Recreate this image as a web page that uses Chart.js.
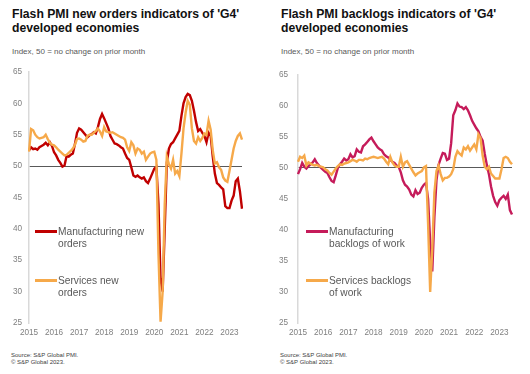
<!DOCTYPE html>
<html>
<head>
<meta charset="utf-8">
<script src="https://cdn.jsdelivr.net/npm/chart.js@4.4.0/dist/chart.umd.min.js"></script>
<style>
  body { margin: 0; background: #fff; font-family: "Liberation Sans", Arial, sans-serif; }
  #wrap { position: relative; width: 530px; height: 374px; overflow: hidden; }
  .title { position: absolute; top: 8px; font-size: 12.2px; font-weight: bold; line-height: 13.5px; color: #111; white-space: nowrap; }
  .sub { position: absolute; top: 47px; font-size: 8px; color: #595959; white-space: nowrap; }
  .src { position: absolute; top: 352px; font-size: 6px; line-height: 7px; color: #404040; white-space: nowrap; }
  canvas { position: absolute; top: 60px; }
</style>
</head>
<body>
<div id="wrap">
  <div class="title" style="left:12px">Flash PMI new orders indicators of 'G4'<br>developed economies</div>
  <div class="title" style="left:281px">Flash PMI backlogs indicators of 'G4'<br>developed economies</div>
  <div class="sub" style="left:12px">Index, 50 = no change on prior month</div>
  <div class="sub" style="left:281px">Index, 50 = no change on prior month</div>
  <div class="src" style="left:11px">Source: S&amp;P Global PMI.<br>© S&amp;P Global 2023.</div>
  <div class="src" style="left:280px">Source: S&amp;P Global PMI.<br>© S&amp;P Global 2023.</div>
  <canvas id="left" width="265" height="290" style="left:0px"></canvas>
  <canvas id="right" width="265" height="290" style="left:265px"></canvas>
</div>
<script>
// monthly, Jan 2015 - Jul 2023
const years = [2015, 2016, 2017, 2018, 2019, 2020, 2021, 2022, 2023];
const lastYearMonths = 7;

const mfgNewOrders = [
  52.5, 53.0, 52.7, 52.8, 52.6, 53.0, 53.2, 53.4, 53.7, 53.3, 53.8, 53.2,
  52.2, 51.7, 51.0, 50.5, 49.9, 50.1, 51.6, 51.5, 51.8, 52.0, 53.5, 55.3,
  56.0, 55.8, 55.4, 55.0, 54.6, 54.9, 55.1, 55.4, 55.2, 56.2, 57.5, 58.3,
  57.6, 56.8, 56.0, 54.8, 54.2, 53.6, 53.5, 53.3, 53.0, 52.8, 52.0, 51.3,
  51.0, 49.8, 48.5, 48.3, 48.5, 48.2, 48.0, 48.2, 47.6, 47.3, 48.0, 48.8,
  49.6, 49.9, 44.0, 32.0, 30.0, 40.0, 50.5, 52.8, 53.5, 53.8, 54.4, 55.0,
  55.6, 58.0, 60.0, 61.0, 61.5, 61.3, 60.4, 58.8, 57.0, 55.6, 55.9, 55.3,
  54.8, 53.8, 55.3, 54.8, 51.5, 48.8, 47.3, 47.0, 46.6, 46.3, 43.6, 43.3,
  43.3, 44.5, 45.3, 47.6, 48.0, 46.0, 43.2
];
const svcNewOrders = [
  52.3, 55.9, 55.7, 55.0, 54.6, 54.4, 54.5, 54.6, 55.0, 54.3, 53.7, 53.4,
  53.3, 53.0, 52.6, 52.3, 52.0, 51.7, 51.8, 52.1, 52.4, 52.8, 53.4, 54.3,
  54.4, 54.2, 53.9, 54.0, 54.8, 55.0, 55.0, 55.3, 55.6, 56.0, 55.5, 54.8,
  56.2, 55.5, 55.4, 55.3, 55.4, 55.2, 55.0, 54.8, 54.6, 54.5, 54.2, 53.0,
  52.4, 53.8, 53.3, 52.0, 52.8, 52.6, 52.0, 52.3, 51.0, 51.5, 52.0, 52.2,
  52.3, 51.0, 36.0, 25.2, 30.0, 44.0, 51.5, 50.3, 49.6, 51.0, 48.8, 49.2,
  48.4, 52.0, 56.0, 58.5, 60.4, 59.8, 56.0, 54.0, 53.6, 54.6, 54.0, 54.5,
  55.2, 55.0, 57.2, 55.8, 52.5, 50.4, 50.6, 49.8, 49.4, 48.2, 47.7, 47.5,
  49.2, 51.0, 52.8, 54.0, 54.8, 55.2, 54.2
];
const mfgBacklogs = [
  49.0, 49.8, 50.8, 50.2, 49.9, 50.3, 50.6, 50.9, 51.4, 50.8, 50.4, 50.0,
  49.7, 49.4, 49.2, 48.5, 47.9, 47.7, 48.8, 50.0, 50.6, 51.0, 51.5, 51.2,
  51.4, 52.2, 51.7, 51.9, 53.0, 52.6, 52.5, 53.5, 53.8, 54.2, 54.6, 54.9,
  54.3, 53.8, 53.3, 53.0, 52.8, 52.2, 51.9, 51.7, 51.3, 51.0, 50.8, 50.4,
  50.2, 49.3, 48.0, 47.3, 47.0, 46.5, 45.7, 45.4, 46.4, 45.8, 46.0, 46.8,
  47.3, 47.6, 45.0, 38.0, 33.3, 42.0, 48.0, 50.5, 51.5, 52.4, 52.3, 51.3,
  51.5, 54.0, 58.5, 59.3, 60.4, 59.9, 59.8, 59.5, 59.8, 59.3, 58.5, 57.6,
  57.0, 56.4, 55.9, 55.0, 54.4, 52.3, 50.5, 49.0, 47.0, 45.5, 44.5, 43.9,
  44.8, 45.2, 45.5, 45.0, 45.7, 43.2, 42.5
];
const svcBacklogs = [
  51.0, 51.8, 51.6, 52.0, 50.4, 50.9, 50.7, 50.5, 50.4, 50.5, 50.3, 50.2,
  50.1, 49.8, 49.6, 49.2, 48.9, 49.4, 49.9, 50.3, 50.6, 50.5, 50.7, 50.8,
  50.9, 51.1, 51.3, 51.2, 51.0, 51.3, 51.3, 51.2, 51.5, 51.4, 51.6, 51.7,
  51.8, 51.7, 51.6, 51.7, 51.8, 51.5, 51.0, 50.6, 51.8, 50.9, 50.4, 50.2,
  50.2, 51.8, 50.2, 50.9, 51.1, 50.5, 49.9, 49.3, 48.8, 49.1, 49.3, 49.5,
  50.1, 50.3, 41.0, 30.0, 37.0, 46.0, 49.5, 50.4, 49.0, 48.0, 48.4, 48.4,
  48.6, 49.0, 49.8, 51.8, 52.7, 52.3, 52.0, 53.3, 53.0, 53.5, 52.8, 53.3,
  53.8, 53.0, 55.4, 54.8, 52.0, 50.2, 49.8, 50.2, 49.1, 48.7, 48.3, 48.3,
  48.3, 49.8, 51.6, 51.8, 51.6, 51.0, 50.6
];

const yTicks = [25, 30, 35, 40, 45, 50, 55, 60, 65];

const months = [];
years.forEach((y, i) => {
  const n = i === years.length - 1 ? lastYearMonths : 12;
  for (let m = 1; m <= n; m++) months.push(y + '-' + m);
});

const FONT = '"Liberation Sans", Arial, sans-serif';

// legend drawn inside the plot, multi-line labels
const insideLegend = {
  id: 'insideLegend',
  afterDatasetsDraw(chart, args, opts) {
    const c = chart.ctx;
    c.save();
    c.font = '10.2px ' + FONT;
    c.textBaseline = 'middle';
    c.fillStyle = '#595959';
    chart.data.datasets.forEach((ds, i) => {
      const y = opts.top + i * opts.gap;
      c.strokeStyle = ds.borderColor;
      c.lineWidth = 3;
      c.beginPath();
      c.moveTo(opts.x, y);
      c.lineTo(opts.x + 22, y);
      c.stroke();
      ds.label.split('\n').forEach((line, k) => {
        c.fillText(line, opts.x + 23, y + 1 + k * 11.5);
      });
    });
    c.restore();
  }
};

function make_chart(id, sets, yWidth, padRight, legendX) {
  return new Chart(document.getElementById(id), {
    type: 'line',
    data: {
      labels: months,
      datasets: sets.map((s) => ({
        label: s.label,
        data: s.data,
        borderColor: s.color,
        backgroundColor: 'transparent',
        borderWidth: 2.4,
        pointRadius: 0,
        tension: 0,
        order: s.order,
      })),
    },
    options: {
      responsive: false,
      animation: false,
      layout: { padding: { top: 9, right: padRight, left: 0, bottom: 0 } },
      plugins: {
        legend: { display: false },
        tooltip: { enabled: false },
        insideLegend: { x: legendX, top: 171.5, gap: 49 },
      },
      scales: {
        x: {
          offset: false,
          grid: { display: false, drawTicks: false },
          border: { display: false },
          ticks: {
            autoSkip: false,
            maxRotation: 0,
            padding: 5,
            color: '#7f7f7f',
            font: { family: FONT, size: 8.2 },
            callback: (v, i) => (i % 12 === 0 ? months[i].split('-')[0] : null),
          },
          afterFit: (scale) => { scale.height = 27; },
        },
        y: {
          min: 25,
          max: 65,
          afterBuildTicks: (scale) => { scale.ticks = yTicks.map((v) => ({ value: v })); },
          grid: {
            drawTicks: false,
            color: (ctx) => (ctx.tick && ctx.tick.value === 50 ? '#595959' : 'transparent'),
            lineWidth: 1,
          },
          border: { color: '#d9d9d9', width: 1.5 },
          ticks: {
            padding: yWidth === 29 ? 7 : 10,
            color: '#7f7f7f',
            font: { family: FONT, size: 8.2 },
          },
          afterFit: (scale) => { scale.width = yWidth; },
        },
      },
    },
    plugins: [insideLegend],
  });
}

make_chart('left', [
  { label: 'Manufacturing new\norders', data: mfgNewOrders, color: '#c00000', order: 1 },
  { label: 'Services new\norders', data: svcNewOrders, color: '#f6a94a', order: 0 },
], 29, 23, 35);

make_chart('right', [
  { label: 'Manufacturing\nbacklogs of work', data: mfgBacklogs, color: '#c51b5a', order: 1 },
  { label: 'Services backlogs\nof work', data: svcBacklogs, color: '#f6a94a', order: 0 },
], 33, 18, 41);
</script>
</body>
</html>
